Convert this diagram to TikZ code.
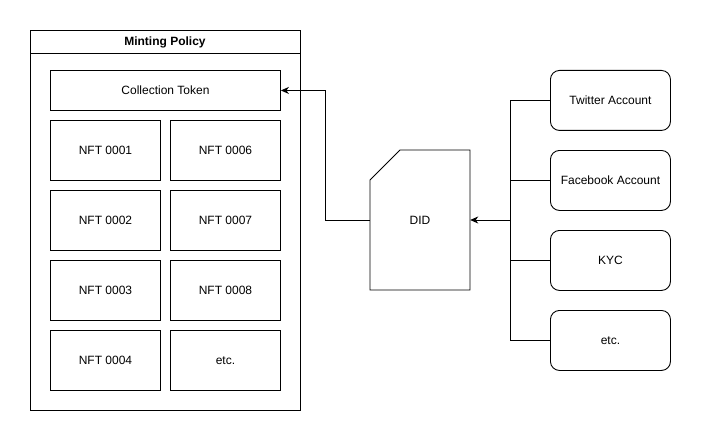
\documentclass[tikz,border=0pt]{standalone}
\usepackage{fontspec}
\setmainfont{Liberation Sans}
\usetikzlibrary{arrows.meta}
\begin{document}
\begin{tikzpicture}[x=1pt,y=-1pt,
  every node/.style={font=\fontsize{12}{14}\selectfont},
  box/.style={draw, line width=0.9pt, minimum width=110pt, minimum height=60pt, inner sep=0pt, anchor=north west},
  rbox/.style={draw, line width=0.9pt, rounded corners=9pt, minimum width=120pt, minimum height=60pt, inner sep=0pt, anchor=north west},
  conn/.style={line width=0.9pt},
  arr/.style={line width=0.9pt, -{Stealth[length=8pt,width=7pt,inset=2.5pt]}}]
\useasboundingbox (0,0) rectangle (701,441);
\fill[white] (0,0) rectangle (701,441);
% container
\draw[line width=0.9pt] (30,30) rectangle (300,410);
\draw[line width=0.9pt] (30,53) -- (300,53);
\node[font=\fontsize{12}{14}\selectfont\bfseries] (title) at (165,42) {Minting Policy};
\node[box, minimum width=230pt, minimum height=40pt] (ct) at (50,70) {Collection Token};
\node[box] (n1) at (50,120) {NFT 0001};
\node[box] (n6) at (170,120) {NFT 0006};
\node[box] (n2) at (50,190) {NFT 0002};
\node[box] (n7) at (170,190) {NFT 0007};
\node[box] (n3) at (50,260) {NFT 0003};
\node[box] (n8) at (170,260) {NFT 0008};
\node[box] (n4) at (50,330) {NFT 0004};
\node[box] (ne) at (170,330) {etc.};
% DID card
\draw[line width=0.9pt] (400,150) -- (470,150) -- (470,290) -- (370,290) -- (370,180) -- cycle;
\node[minimum width=100pt, minimum height=140pt, inner sep=0pt] (did) at (420,220) {DID};
% right boxes
\node[rbox] (tw) at (550,70) {Twitter Account};
\node[rbox] (fb) at (550,150) {Facebook Account};
\node[rbox] (kyc) at (550,230) {KYC};
\node[rbox] (etc) at (550,310) {etc.};
\coordinate (bus) at (510,220);
\draw[conn] (tw.west) -| (bus);
\draw[conn] (etc.west) -| (bus);
\draw[conn] (fb.west) -- (fb.west -| bus);
\draw[conn] (kyc.west) -- (kyc.west -| bus);
\draw[arr] (bus) -- (did.east);
\coordinate (bend) at (325,220);
\draw[arr] (did.west) -- (bend) |- (ct.east);
\end{tikzpicture}
\end{document}
